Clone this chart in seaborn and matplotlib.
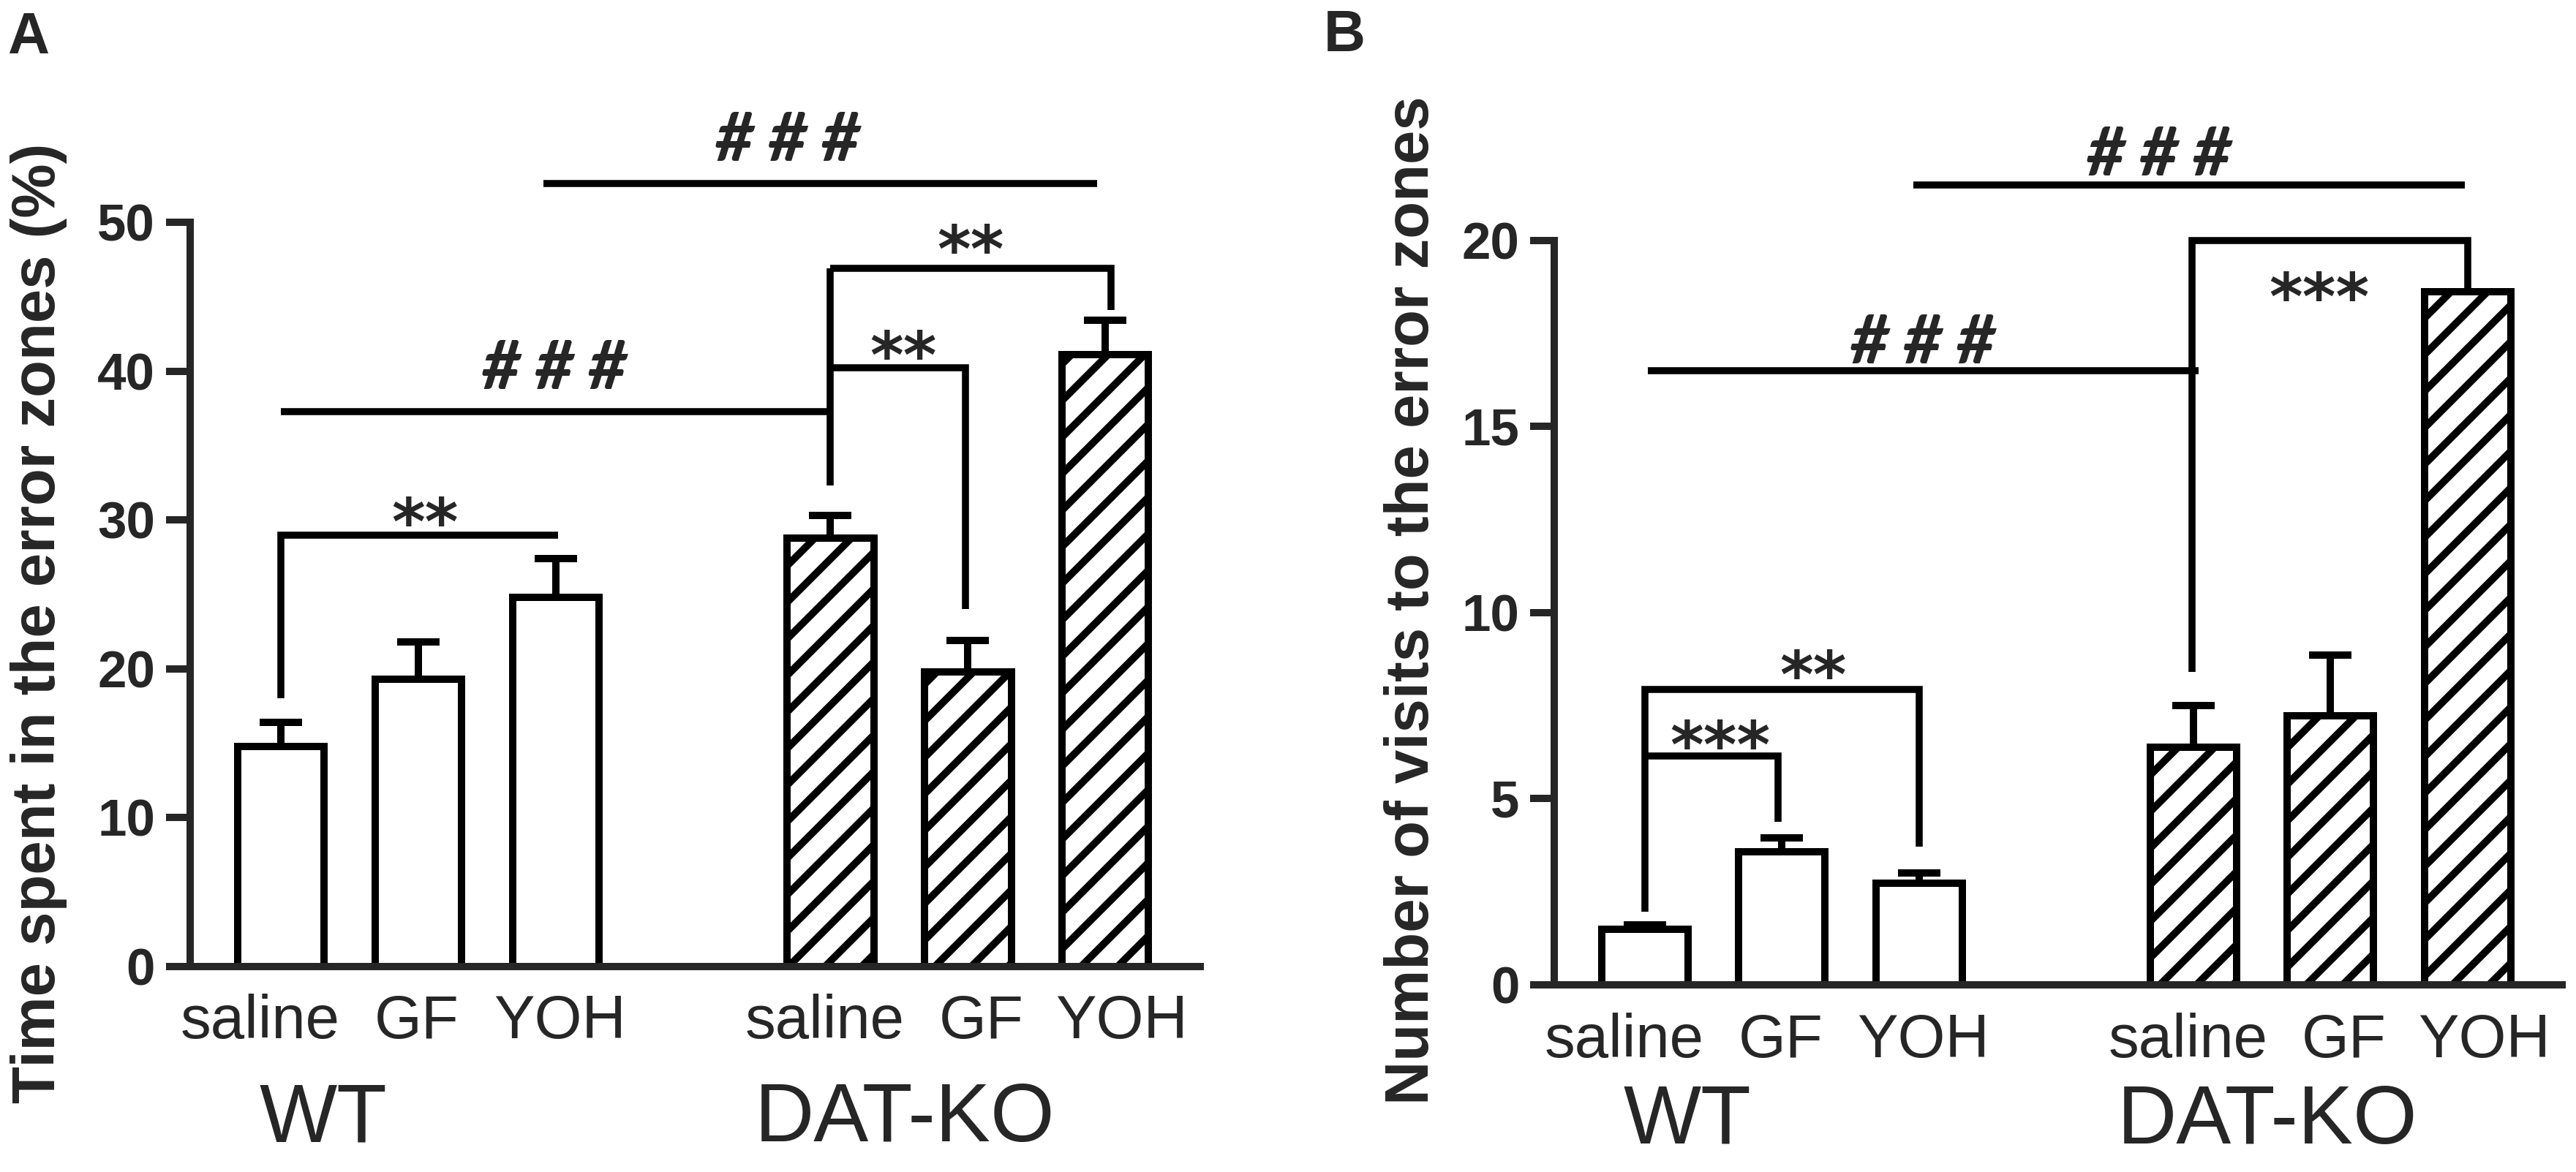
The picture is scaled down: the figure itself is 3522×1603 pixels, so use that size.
import matplotlib
matplotlib.use('Agg')
import matplotlib.pyplot as plt
import numpy as np
import pandas as pd
import seaborn as sns

# Dados (média e erro padrão, só a parte de cima)
groups = ['WT', 'WT', 'WT', 'DAT-KO', 'DAT-KO', 'DAT-KO']
treatments = ['saline', 'GF', 'YOH', 'saline', 'GF', 'YOH']
positions = [0, 1, 2, 4, 5, 6]
label_pos = [-0.15, 0.99, 2.03, 3.96, 5.1, 6.12]

time_mean = [14.8, 19.3, 24.8, 28.8, 19.8, 41.1]
time_sem = [1.6, 2.5, 2.6, 1.5, 2.1, 2.3]

visits_mean = [1.5, 3.57, 2.73, 6.39, 7.23, 18.63]
visits_sem = [0.12, 0.37, 0.28, 1.12, 1.63, 0.0]

# Linhas de significância: (x, y) de cada segmento
lines_a = [
    ([1.91, 5.94], [52.6, 52.6]),
    ([0, 0, 2.02], [18.0, 29.0, 29.0]),
    ([0, 4.0], [37.3, 37.3]),
    ([4.0, 4.0], [32.3, 46.9]),
    ([4.0, 4.98, 4.98], [40.2, 40.2, 24.0]),
    ([4.0, 6.04, 6.04], [46.9, 46.9, 44.1]),
]
texts_a = [(3.69, 54.1, '# # #'), (1.99, 38.8, '# # #'),
           (1.05, 28.4, '**'), (4.53, 39.6, '**'), (5.02, 46.7, '**')]

lines_b = [
    ([1.96, 5.98], [21.5, 21.5]),
    ([0.02, 4.04], [16.5, 16.5]),
    ([3.99, 3.99, 6.0, 6.0], [8.4, 20.0, 20.0, 18.63]),
    ([0, 0, 2.0, 2.0], [1.97, 7.93, 7.93, 3.71]),
    ([0, 0.97, 0.97], [6.14, 6.14, 4.38]),
]
texts_b = [(3.75, 21.75, '# # #'), (2.03, 16.7, '# # #'),
           (4.92, 17.9, '***'), (1.23, 7.75, '**'), (0.55, 5.85, '***')]

sns.set_style('ticks')
plt.rcParams['font.family'] = ['Liberation Sans', 'DejaVu Sans']
plt.rcParams['hatch.linewidth'] = 2.4

fig = plt.figure(figsize=(3522 / 300, 1603 / 300), dpi=300)
ax_a = fig.add_axes([0.0738, 0.1753, 0.3921, 0.6351])
ax_b = fig.add_axes([0.6034, 0.1597, 0.3912, 0.6351])


def painel(ax, means, sems, ymax, ystep, lines, texts, group_y):
    df = pd.DataFrame({'pos': positions, 'valor': means, 'grupo': groups})
    sns.barplot(data=df, x='pos', y='valor', native_scale=True, errorbar=None,
                color='white', edgecolor='black', linewidth=2.4, width=0.63,
                ax=ax)
    for p in ax.patches:
        p.set_facecolor('white')
        if p.get_x() + p.get_width() / 2 > 3:
            p.set_hatch('//')
    ax.errorbar(positions, means, yerr=[np.zeros(len(sems)), sems], fmt='none',
                ecolor='black', elinewidth=2.4, capsize=7, capthick=2.4,
                zorder=3)
    for xs, ys in lines:
        ax.plot(xs, ys, color='black', lw=2.3, clip_on=False,
                solid_joinstyle='miter', solid_capstyle='butt')
    for x, y, t in texts:
        if '*' in t:
            ax.text(x, y, t, ha='center', va='baseline', fontsize=21,
                    fontweight='bold', family=['DejaVu Sans'], clip_on=False)
        else:
            ax.text(x, y, t, ha='center', va='baseline', fontsize=22,
                    fontweight='black', fontstyle='italic',
                    family=['Lato', 'DejaVu Sans'], clip_on=False)

    ax.set_xlim(-0.66, 6.69)
    ax.set_ylim(0, ymax)
    ax.set_yticks(np.arange(0, ymax + 1, ystep))
    ax.set_xticks(label_pos)
    ax.set_xticklabels(treatments, fontsize=20)
    ax.tick_params(axis='x', length=0, pad=9)
    ax.tick_params(axis='y', direction='out', length=8, width=2.4,
                   labelsize=17, pad=3.5)
    for lab in ax.get_yticklabels():
        lab.set_fontweight('bold')
    sns.despine(ax=ax)
    for s in ['left', 'bottom']:
        ax.spines[s].set_linewidth(2.4)
    ax.set_xlabel('')
    ax.set_ylabel('')
    trans = ax.get_xaxis_transform()
    ax.text(0.31, group_y, 'WT', transform=trans, ha='center', va='baseline',
            fontsize=27)
    ax.text(4.54, group_y, 'DAT-KO', transform=trans, ha='center',
            va='baseline', fontsize=27)


painel(ax_a, time_mean, time_sem, 50, 10, lines_a, texts_a, -0.235)
painel(ax_b, visits_mean, visits_sem, 20, 5, lines_b, texts_b, -0.213)

fig.text(53 / 3522, 0.468, 'Time spent in the error zones (%)', rotation=90,
         ha='center', va='center', fontsize=20, fontweight='bold')
fig.text(1931 / 3522, 0.488, 'Number of visits to the error zones',
         rotation=90, ha='center', va='center', fontsize=20,
         fontweight='bold')
fig.text(10 / 3522, 1 - 73 / 1603, 'A', fontsize=19, fontweight='bold',
         va='baseline')
fig.text(1810 / 3522, 1 - 70 / 1603, 'B', fontsize=19, fontweight='bold',
         va='baseline')

fig.savefig('out.png', dpi=300, facecolor='white')
